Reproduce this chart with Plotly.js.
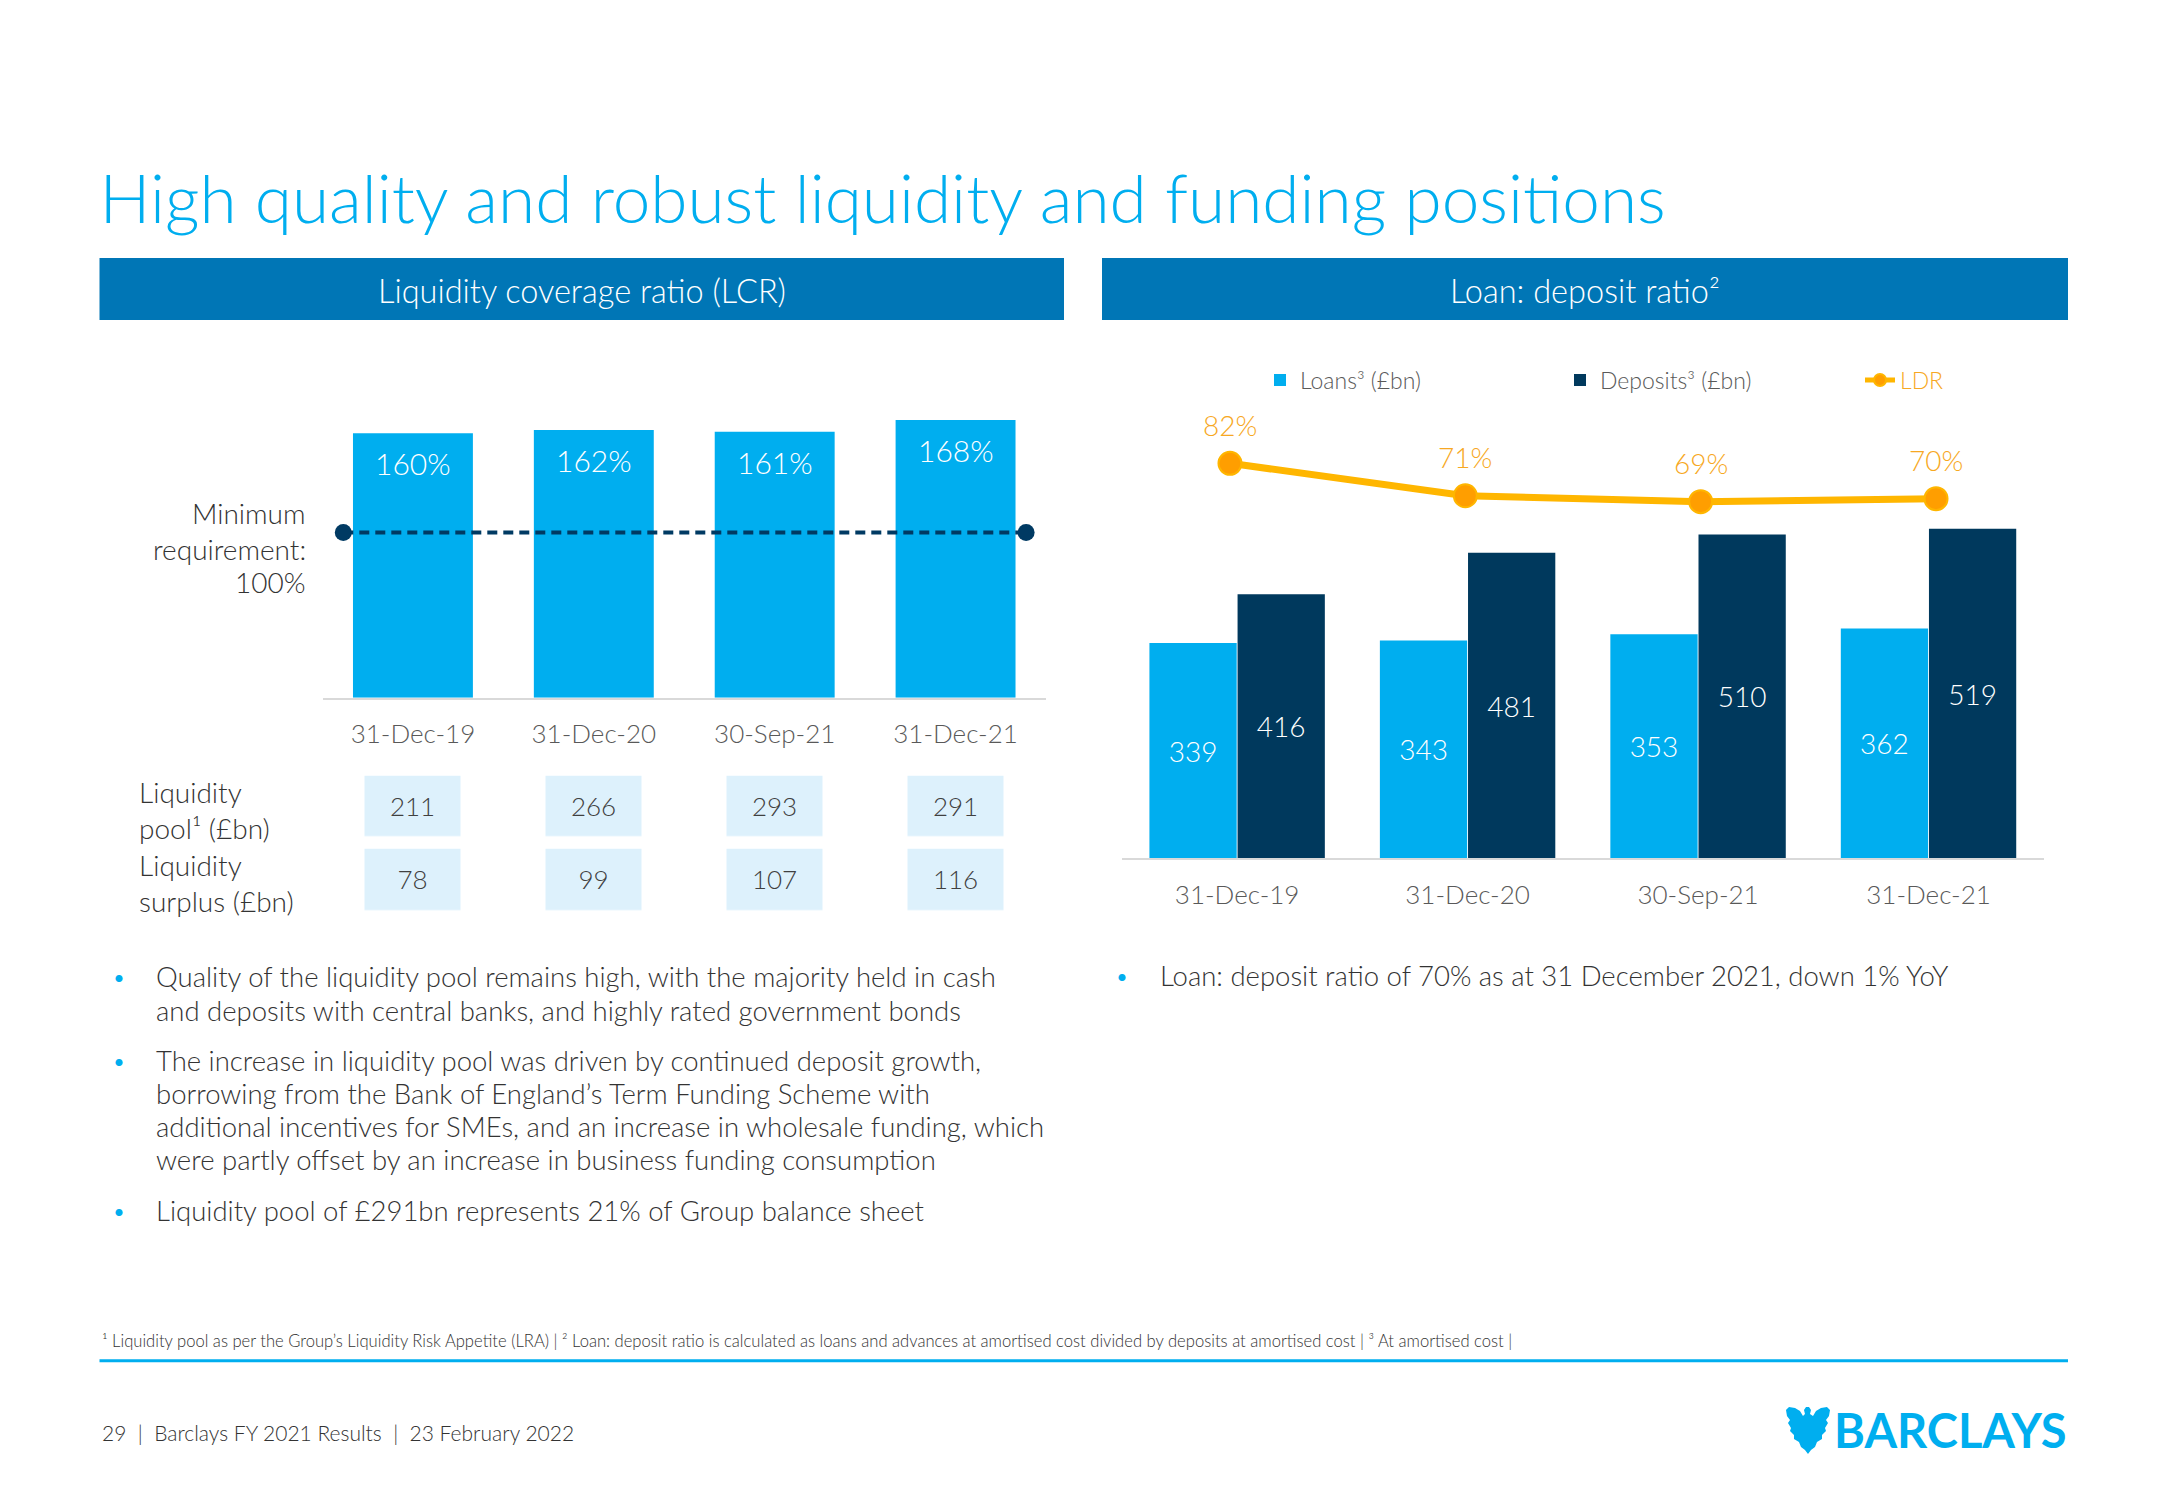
<!DOCTYPE html>
<html>
<head>
<meta charset="utf-8">
<script src="https://cdn.plot.ly/plotly-3.0.1.min.js"></script>
<style>html,body{margin:0;padding:0;background:#fff;}#chart{width:2166px;height:1500px;}</style>
</head>
<body>
<div id="chart"></div>
<script>
// ---------- DATA ----------
const lcrDates = ['31-Dec-19', '31-Dec-20', '30-Sep-21', '31-Dec-21'];
const lcrPct = [160, 162, 161, 168];
const minRequirement = 100;
const tableRows = ['Liquidity<br>pool¹ (£bn)', 'Liquidity<br>surplus (£bn)'];
const liquidityPool = [211, 266, 293, 291];
const liquiditySurplus = [78, 99, 107, 116];

const ldrDates = ['31-Dec-19', '31-Dec-20', '30-Sep-21', '31-Dec-21'];
const loans = [339, 343, 353, 362];
const deposits = [416, 481, 510, 519];
const ldrPct = [82, 71, 69, 70];

const bullets = [
  'Quality of the liquidity pool remains high, with the majority held in cash<br>and deposits with central banks, and highly rated government bonds',
  'The increase in liquidity pool was driven by continued deposit growth,<br>borrowing from the Bank of England’s Term Funding Scheme with<br>additional incentives for SMEs, and an increase in wholesale funding, which<br>were partly offset by an increase in business funding consumption',
  'Liquidity pool of £291bn represents 21% of Group balance sheet'
];
const rightBullet = 'Loan: deposit ratio of 70% as at 31 December 2021, down 1% YoY';

// ---------- LAYOUT HELPERS ----------
const W = 2166, H = 1500;
const px = x => x / W;
const py = y => 1 - y / H;
const FONT = 'Lato, "Open Sans", sans-serif';
const WT = 300;
const CYAN = '#00AEEF', NAVY = '#00395D', HEADER = '#0076B6';
const GREY = '#595959', DARK = '#333333', ORANGE = '#F7A823';
const f = (size, color, extra) => Object.assign({size: size, color: color, family: FONT, weight: WT}, extra || {});

// ---------- TRACES ----------
const traces = [];

// LCR bars
traces.push({
  type: 'bar', x: lcrDates, y: lcrPct, xaxis: 'x', yaxis: 'y',
  width: 0.663, marker: {color: CYAN}, showlegend: false, hoverinfo: 'skip'
});
// Minimum requirement dashed line
traces.push({
  type: 'scatter', mode: 'lines+markers', xaxis: 'x5', yaxis: 'y',
  x: [-0.385, lcrDates.length - 1 + 0.39], y: [minRequirement, minRequirement],
  line: {color: '#003A63', width: 4, dash: '10px,6px'},
  marker: {color: '#003A63', size: 17}, showlegend: false, hoverinfo: 'skip'
});
// Liquidity table as heatmap cells
traces.push({
  type: 'heatmap', xaxis: 'x3', yaxis: 'y3',
  x: lcrDates, y: tableRows, z: [liquidityPool, liquiditySurplus],
  colorscale: [[0, '#DDF1FC'], [1, '#DDF1FC']], showscale: false,
  xgap: 85, ygap: 12.6, texttemplate: '%{z}',
  textfont: f(26, '#404040'), hoverinfo: 'skip', showlegend: false
});
// Loans / Deposits bars
traces.push({
  type: 'bar', name: 'Loans³ (£bn)', x: ldrDates, y: loans, xaxis: 'x2', yaxis: 'y2',
  marker: {color: CYAN}, text: loans.map(String), textposition: 'inside',
  insidetextanchor: 'middle', textangle: 0, constraintext: 'none',
  textfont: f(28, '#FFFFFF'), hoverinfo: 'skip'
});
traces.push({
  type: 'bar', name: 'Deposits³ (£bn)', x: ldrDates, y: deposits, xaxis: 'x2', yaxis: 'y2',
  marker: {color: NAVY}, text: deposits.map(String), textposition: 'inside',
  insidetextanchor: 'middle', textangle: 0, constraintext: 'none',
  textfont: f(28, '#FFFFFF'), hoverinfo: 'skip'
});
// LDR line
traces.push({
  type: 'scatter', mode: 'lines+markers', name: '<span style="color:' + ORANGE + '">LDR</span>',
  x: ldrDates, y: ldrPct, xaxis: 'x6', yaxis: 'y4',
  line: {color: '#FFB600', width: 7},
  marker: {color: '#FF9E00', size: 23, line: {color: '#FFB600', width: 2}},
  hoverinfo: 'skip'
});

// ---------- ANNOTATIONS ----------
const ann = [];
const P = (x, y, text, font, opts) => ann.push(Object.assign({xref: 'paper', yref: 'paper', x: px(x), y: py(y),
  showarrow: false, text: text, font: font, yanchor: 'middle'}, opts || {}));
// LCR labels inside bars
lcrPct.forEach((v, i) => ann.push({
  xref: 'x', yref: 'y', x: lcrDates[i], y: v, yshift: -30, showarrow: false,
  text: v + '%', font: f(30, '#FFFFFF'), yanchor: 'middle'
}));
// LDR labels above markers
ldrPct.forEach((v, i) => ann.push({
  xref: 'x6', yref: 'y4', x: ldrDates[i], y: v, yshift: 38.5, showarrow: false,
  text: v + '%', font: f(28, ORANGE), yanchor: 'middle'
}));
// Header texts
P(581.75, 290, 'Liquidity coverage ratio (LCR)', f(32.5, '#FFFFFF'), {xanchor: 'center'});
P(1585, 290, 'Loan: deposit ratio²', f(32.5, '#FFFFFF'), {xanchor: 'center'});
// Minimum requirement label (one annotation per line)
const minLabelY = [513, 549, 582];
('Minimum<br>requirement:<br>' + minRequirement + '%').split('<br>').forEach((line, j) =>
  P(308, minLabelY[j], line, f(28, DARK), {xanchor: 'right'}));
// Table row labels
[810, 882.5].forEach((yy, i) => P(137, yy, tableRows[i], f(28, DARK), {xanchor: 'left', align: 'left'}));
// Bullets (one annotation per line)
const firstLineY = [976.7, 1060, 1210];
const lineStep = 33.3;
bullets.forEach((t, i) => {
  t.split('<br>').forEach((line, j) => P(154, firstLineY[i] + j * lineStep, line, f(27.5, DARK), {xanchor: 'left'}));
  P(119, firstLineY[i], '•', f(24, CYAN), {xanchor: 'center'});
});
P(1158, 975.3, rightBullet, f(27.5, DARK), {xanchor: 'left'});
P(1122, 975.3, '•', f(24, CYAN), {xanchor: 'center'});
// Footnote
P(99.5, 1341, '¹ Liquidity pool as per the Group’s Liquidity Risk Appetite (LRA) | ² Loan: deposit ratio is calculated as loans and advances at amortised cost divided by deposits at amortised cost | ³ At amortised cost |',
  f(16.6, DARK), {xanchor: 'left'});
// Footer
P(99.5, 1432, '29\u00A0\u00A0|\u00A0\u00A0Barclays FY 2021 Results\u00A0\u00A0|\u00A0\u00A023 February 2022', f(21, DARK), {xanchor: 'left'});
// Logo wordmark
P(2068, 1430, '<b>BARCLAYS</b>', {size: 47, color: CYAN, family: 'Lato, sans-serif'}, {xanchor: 'right'});

// ---------- SHAPES ----------
function pathFrom(pts, ox, oy) {
  return pts.map((p, i) => (i ? 'L' : 'M') + px(ox + p[0]).toFixed(5) + ',' + py(oy + p[1]).toFixed(5)).join(' ') + ' Z';
}
const eagle = [[21,0],[24,0],[26,3],[25,7],[28,9],[31,4],[36,1],[42,0],[45,3],[44,9],[41,13],[43,16],[40,21],[41,24],[37,28],[37,32],[32,35],[30,40],[26,43],[23,47],[20,43],[16,40],[14,35],[9,32],[9,28],[5,24],[6,21],[3,16],[5,13],[2,9],[1,3],[4,0],[10,1],[15,4],[18,9],[20,7],[19,3]];
const shapes = [
  {type: 'rect', xref: 'paper', yref: 'paper', x0: px(99.5), x1: px(1064), y0: py(320), y1: py(258), fillcolor: HEADER, line: {width: 0}, layer: 'below'},
  {type: 'rect', xref: 'paper', yref: 'paper', x0: px(1102), x1: px(2068), y0: py(320), y1: py(258), fillcolor: HEADER, line: {width: 0}, layer: 'below'},
  {type: 'line', xref: 'paper', yref: 'paper', x0: px(99.5), x1: px(2068), y0: py(1360.7), y1: py(1360.7), line: {color: CYAN, width: 3}},
  {type: 'path', xref: 'paper', yref: 'paper', path: pathFrom(eagle, 1785, 1407), fillcolor: CYAN, line: {width: 0}}
];

// ---------- LAYOUT ----------
const tickCommon = {
  type: 'category', range: [-0.5, 3.5], showline: true, linecolor: '#D9D9D9', linewidth: 2,
  ticks: 'outside', ticklen: 12, tickcolor: 'rgba(0,0,0,0)', showgrid: false, zeroline: false,
  tickfont: f(26, GREY), fixedrange: true
};
const layout = {
  width: W, height: H, margin: {l: 0, r: 0, t: 0, b: 0},
  paper_bgcolor: '#FFFFFF', plot_bgcolor: 'rgba(0,0,0,0)',
  font: {family: FONT, color: DARK, weight: WT},
  title: {text: 'High quality and robust liquidity and funding positions', x: px(99.5), xanchor: 'left', xref: 'paper',
    y: py(199), yanchor: 'middle', yref: 'paper', font: f(67.5, CYAN)},
  barmode: 'group', bargap: 0.235, bargroupgap: 0.01,
  xaxis: Object.assign({}, tickCommon, {domain: [px(322.5), px(1046)], anchor: 'y'}),
  yaxis: {domain: [py(697.7), py(400)], range: [0, 297.7 / 1.6525], visible: false, fixedrange: true},
  xaxis5: {domain: [px(322.5), px(1046)], range: [-0.5, 3.5], anchor: 'y', overlaying: 'x', visible: false, fixedrange: true},
  xaxis3: {type: 'category', domain: [px(322.5), px(1046)], range: [-0.5, 3.5], anchor: 'y3', visible: false, fixedrange: true},
  yaxis3: {type: 'category', domain: [py(916.3), py(769.7)], range: [1.5, -0.5], anchor: 'x3', visible: false, fixedrange: true},
  xaxis2: Object.assign({}, tickCommon, {domain: [px(1121.9), px(2043.75)], anchor: 'y2'}),
  yaxis2: {domain: [py(858.3), py(380)], range: [0, 478.3 / 0.635], visible: false, anchor: 'x2', fixedrange: true},
  xaxis6: {type: 'category', domain: [px(1112.3), px(2053.7)], range: [-0.5, 3.5], anchor: 'y4', visible: false, fixedrange: true},
  yaxis4: {domain: [py(858.3), py(380)], range: [-(858.3 - 705.2) / 2.95, (705.2 - 380) / 2.95], visible: false, anchor: 'x6', fixedrange: true},
  showlegend: true,
  legend: {orientation: 'h', x: px(1260), xanchor: 'left', y: py(380), yanchor: 'middle',
    font: f(23, GREY), entrywidth: 255, entrywidthmode: 'pixels', itemsizing: 'constant',
    bgcolor: 'rgba(0,0,0,0)', itemclick: false, itemdoubleclick: false},
  annotations: ann, shapes: shapes
};

Plotly.newPlot('chart', traces, layout, {staticPlot: true, displayModeBar: false});
</script>
</body>
</html>
